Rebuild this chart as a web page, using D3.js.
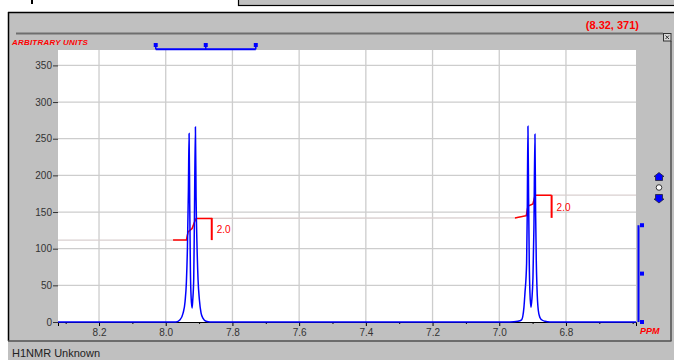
<!DOCTYPE html>
<html>
<head>
<meta charset="utf-8">
<script src="https://cdn.jsdelivr.net/npm/d3@7"></script>
<style>
  body { margin: 0; background: #fff; }
  svg { display: block; font-family: "Liberation Sans", Arial, sans-serif; }
</style>
</head>
<body>
<div id="chart"></div>
<script>
// spectrum trace (ppm, arbitrary units)
var specPpm = [8.323, 7.969, 7.957, 7.948, 7.942, 7.938, 7.935, 7.932, 7.930, 7.928, 7.926, 7.924, 7.921,
  7.919, 7.916, 7.914, 7.911, 7.909, 7.906, 7.903, 7.899, 7.894, 7.888, 7.879, 7.867,
  6.968, 6.944, 6.933, 6.926, 6.923, 6.918, 6.916, 6.914, 6.912, 6.910, 6.908, 6.905, 6.902,
  6.899, 6.896, 6.893, 6.891, 6.889, 6.887, 6.883, 6.878, 6.873, 6.863, 6.848, 6.59];
var specVal = [0, 0, 3, 12, 28, 55, 100, 180, 257, 160, 70, 35, 19,
  30, 60, 140, 266, 170, 100, 57, 30, 12, 5, 1, 0,
  0, 1, 3, 20, 39, 80, 150, 267, 170, 80, 40, 20, 32,
  60, 130, 256, 150, 84, 48, 16, 6, 3, 1, 0, 0];

// integral curve
var integPpm = [8.323, 7.938, 7.933, 7.921, 7.914, 7.909, 6.953, 6.919, 6.914, 6.899, 6.893, 6.888, 6.59];
var integVal = [111.7, 111.7, 123, 127.5, 136, 141.3, 142, 145, 158, 161, 172, 173, 173];

// integrated regions (start ppm, end ppm) and their labels
var integFrom = [7.978, 6.953];
var integTo = [7.862, 6.843];
var integLabels = ["2.0", "2.0"];

var yTicks = [0, 50, 100, 150, 200, 250, 300, 350];
var xMajor = [8.2, 8.0, 7.8, 7.6, 7.4, 7.2, 7.0, 6.8];
var xMinor = [8.3, 8.1, 7.9, 7.7, 7.5, 7.3, 7.1, 6.9, 6.7, 6.6];
var topMarkers = [8.03, 7.88, 7.73];
var scaleBarVals = [132, 66, 0];
var cursorText = "(8.32, 371)";

var W = 674, H = 360;
var plot = {left: 58, right: 636, top: 50, bottom: 322};

var svg = d3.select('#chart').append('svg').attr('width', W).attr('height', H);

var x = d3.scaleLinear().domain([8.323, 6.59]).range([plot.left, plot.right]);
var y = d3.scaleLinear().domain([0, 371]).range([plot.bottom, plot.top]);

// window chrome
svg.append('rect').attr('x', 238.5).attr('y', -3).attr('width', 440).attr('height', 8.5)
  .attr('fill', '#c0c0c0').attr('stroke', '#000').attr('stroke-width', 1.2);
svg.append('rect').attr('x', 31).attr('y', 0).attr('width', 2).attr('height', 4).attr('fill', '#000');
svg.append('rect').attr('x', 8).attr('y', 12).attr('width', 666).attr('height', 348).attr('fill', '#c0c0c0');
svg.append('line').attr('x1', 8).attr('x2', 674).attr('y1', 12.5).attr('y2', 12.5).attr('stroke', '#000').attr('stroke-width', 1.5);
svg.append('line').attr('x1', 8.5).attr('x2', 8.5).attr('y1', 12).attr('y2', 341).attr('stroke', '#000').attr('stroke-width', 1.5);
svg.append('line').attr('x1', 16).attr('x2', 663).attr('y1', 33.5).attr('y2', 33.5).attr('stroke', '#6e6e6e').attr('stroke-width', 2);
svg.append('line').attr('x1', 671).attr('x2', 671).attr('y1', 41).attr('y2', 341).attr('stroke', '#505050').attr('stroke-width', 1.5);
svg.append('line').attr('x1', 8).attr('x2', 671.5).attr('y1', 341).attr('y2', 341).attr('stroke', '#505050').attr('stroke-width', 1.5);

// close box
var cb = svg.append('g').attr('transform', 'translate(663.5,33.5)');
cb.append('rect').attr('width', 7.5).attr('height', 7.5).attr('fill', '#d8d8d8').attr('stroke', '#333');
cb.append('path').attr('d', 'M2,2L5.5,5.5M5.5,2L2,5.5').attr('stroke', '#333').attr('stroke-width', 1);

svg.append('text').attr('x', 639).attr('y', 29).attr('text-anchor', 'end')
  .attr('font-size', 11).attr('font-weight', 'bold').attr('fill', '#f00').text(cursorText);
svg.append('text').attr('x', 12).attr('y', 45).attr('font-size', 8).attr('font-weight', 'bold')
  .attr('font-style', 'italic').attr('letter-spacing', 0.2).attr('fill', '#f00').text('ARBITRARY UNITS');
svg.append('text').attr('x', 12).attr('y', 357).attr('font-size', 11).attr('fill', '#222').text('H1NMR Unknown');

// plot area
svg.append('rect').attr('x', plot.left).attr('y', plot.top)
  .attr('width', plot.right - plot.left).attr('height', plot.bottom - plot.top).attr('fill', '#fff');

var grid = svg.append('g');
grid.selectAll('.gy').data(yTicks.slice(1)).enter().append('line')
  .attr('x1', plot.left).attr('x2', plot.right)
  .attr('y1', function(d){ return y(d); }).attr('y2', function(d){ return y(d); })
  .attr('stroke', '#cdcdcd').attr('stroke-width', 1.3);
grid.selectAll('.gx').data(xMajor).enter().append('line')
  .attr('y1', plot.top).attr('y2', plot.bottom)
  .attr('x1', function(d){ return x(d); }).attr('x2', function(d){ return x(d); })
  .attr('stroke', '#cdcdcd').attr('stroke-width', 1.3);

// y axis
var yAxis = svg.append('g').attr('transform', 'translate(' + plot.left + ',0)')
  .call(d3.axisLeft(y).tickValues(yTicks).tickSize(5).tickPadding(1));
yAxis.select('.domain').remove();
yAxis.selectAll('text').attr('font-size', 10).attr('fill', '#333').attr('font-family', '"Liberation Sans", Arial, sans-serif');
yAxis.selectAll('line').attr('stroke', '#333');

// x axis
var xAxis = svg.append('g').attr('transform', 'translate(0,' + plot.bottom + ')')
  .call(d3.axisBottom(x).tickValues(xMajor).tickSize(4).tickPadding(3).tickFormat(d3.format('.1f')));
xAxis.select('.domain').attr('stroke', '#000');
xAxis.selectAll('text').attr('font-size', 10).attr('fill', '#333').attr('font-family', '"Liberation Sans", Arial, sans-serif');
xAxis.selectAll('line').attr('stroke', '#000');
svg.append('g').attr('transform', 'translate(0,' + plot.bottom + ')')
  .call(d3.axisBottom(x).tickValues(xMinor).tickSize(2).tickFormat(''))
  .call(function(g){ g.select('.domain').remove(); g.selectAll('line').attr('stroke', '#000'); });

svg.append('text').attr('x', 640).attr('y', 334).attr('font-size', 9).attr('font-weight', 'bold')
  .attr('font-style', 'italic').attr('fill', '#f00').text('PPM');

// integral (full, pale) then red in the integrated ranges
var integData = integPpm.map(function(p, i){ return [p, integVal[i]]; });
var integLine = d3.line().x(function(d){ return x(d[0]); }).y(function(d){ return y(d[1]); });
svg.append('path').datum(integData).attr('d', integLine)
  .attr('fill', 'none').attr('stroke', '#d9cfcf').attr('stroke-width', 1.4);

var defs = svg.append('defs');
integFrom.forEach(function(p0, i){
  var p1 = integTo[i];
  defs.append('clipPath').attr('id', 'ic' + i).append('rect')
    .attr('x', x(p0)).attr('width', x(p1) - x(p0)).attr('y', 0).attr('height', H);
  svg.append('path').datum(integData).attr('d', integLine).attr('clip-path', 'url(#ic' + i + ')')
    .attr('fill', 'none').attr('stroke', '#f00').attr('stroke-width', 1.5);
  var v0 = d3.max(integData.filter(function(d){ return d[0] >= p0; }), function(d){ return d[1]; });
  var v1 = d3.min(integData.filter(function(d){ return d[0] <= p1; }), function(d){ return d[1]; });
  svg.append('line').attr('x1', x(p1)).attr('x2', x(p1)).attr('y1', y(v0)).attr('y2', y(v1))
    .attr('stroke', '#f00').attr('stroke-width', 2);
  svg.append('text').attr('x', x(p1) + 5).attr('y', (y(v0) + y(v1)) / 2 + 4)
    .attr('font-size', 10).attr('fill', '#f00').text(integLabels[i]);
});

// spectrum
var specData = specPpm.map(function(p, i){ return [p, specVal[i]]; });
svg.append('path').datum(specData)
  .attr('d', d3.line().curve(d3.curveMonotoneX).x(function(d){ return x(d[0]); }).y(function(d){ return y(d[1]); }))
  .attr('fill', 'none').attr('stroke', '#0000ff').attr('stroke-width', 1.5);

// top range marker
var mk = svg.append('g');
mk.append('line').attr('x1', x(topMarkers[0])).attr('x2', x(topMarkers[2])).attr('y1', 49.3).attr('y2', 49.3)
  .attr('stroke', '#0000ff').attr('stroke-width', 2);
mk.selectAll('.stub').data(topMarkers).enter().append('line')
  .attr('x1', function(d){ return x(d); }).attr('x2', function(d){ return x(d); })
  .attr('y1', 45).attr('y2', 49.3).attr('stroke', '#0000ff').attr('stroke-width', 1.5);
mk.selectAll('.sq').data(topMarkers).enter().append('rect')
  .attr('x', function(d){ return x(d) - 2; }).attr('y', 43).attr('width', 4).attr('height', 4).attr('fill', '#0000ff');

// right scale bar
var sb = svg.append('g');
sb.append('line').attr('x1', 638.5).attr('x2', 638.5).attr('y1', y(scaleBarVals[0])).attr('y2', y(0))
  .attr('stroke', '#0000ff').attr('stroke-width', 2);
sb.selectAll('rect').data(scaleBarVals).enter().append('rect')
  .attr('x', 640).attr('y', function(d){ return y(d) - 2; }).attr('width', 4).attr('height', 4).attr('fill', '#0000ff');

// up/down buttons
var ud = svg.append('g').attr('transform', 'translate(659,0)');
ud.append('path').attr('d', 'M0,172.5L5,176.5L3.5,176.5L3.5,180.5L-3.5,180.5L-3.5,176.5L-5,176.5Z')
  .attr('fill', '#0000ff').attr('stroke', '#223').attr('stroke-width', 0.8);
ud.append('circle').attr('cx', 0).attr('cy', 187.5).attr('r', 2.8).attr('fill', '#fff').attr('stroke', '#222').attr('stroke-width', 0.9);
ud.append('path').attr('d', 'M0,203L5,199L3.5,199L3.5,194.5L-3.5,194.5L-3.5,199L-5,199Z')
  .attr('fill', '#0000ff').attr('stroke', '#223').attr('stroke-width', 0.8);
</script>
</body>
</html>
